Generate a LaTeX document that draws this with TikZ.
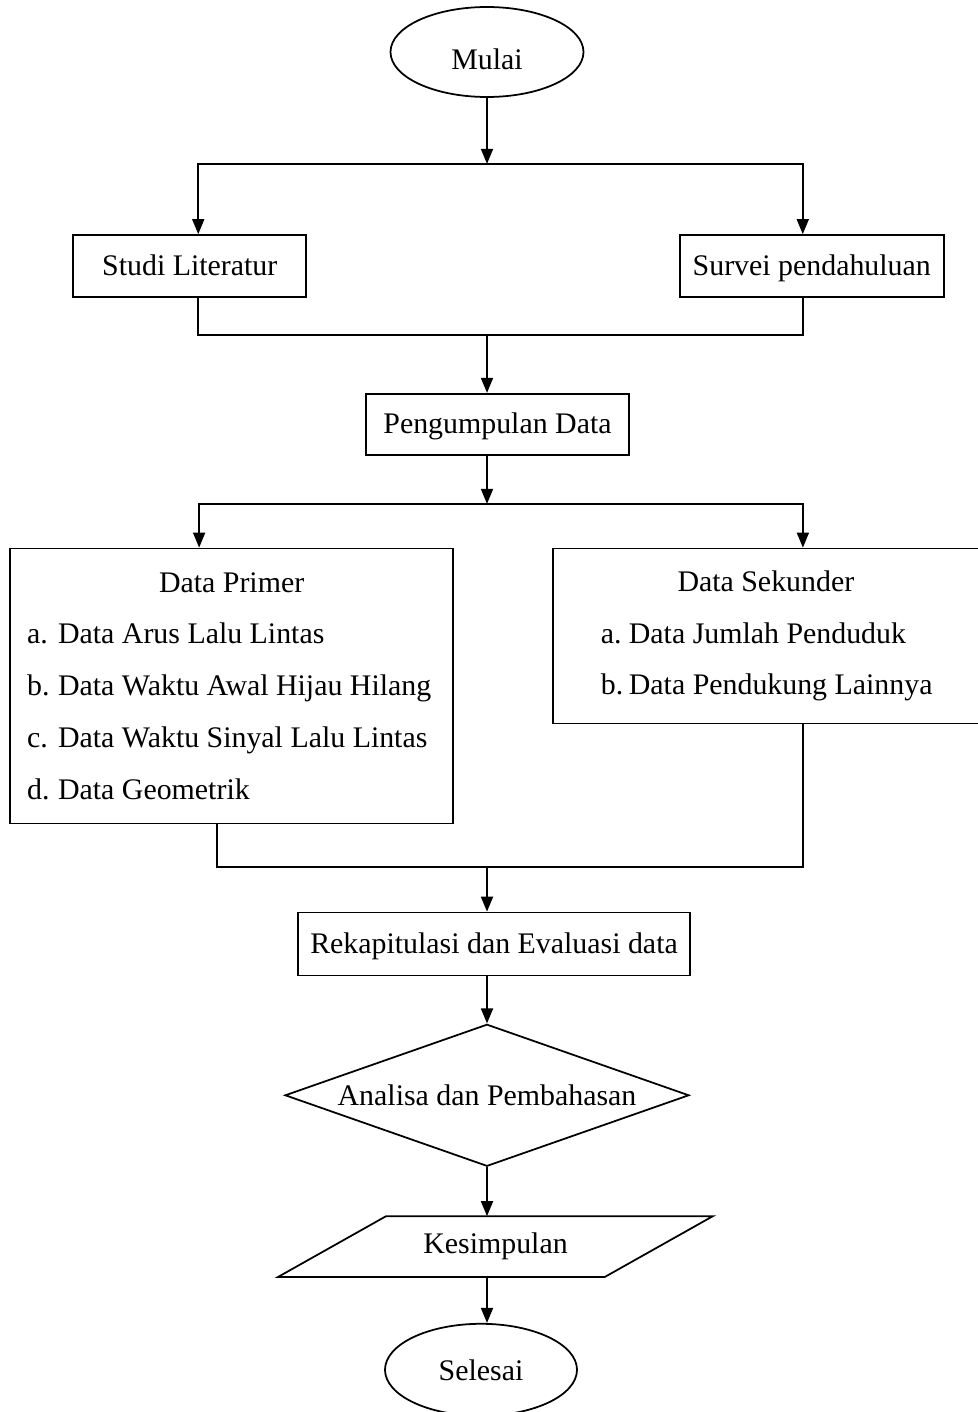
\documentclass[tikz,border=0pt]{standalone}
\usepackage{fontspec}
\setmainfont{Liberation Serif}
\usetikzlibrary{arrows.meta, positioning, shapes.geometric}

\begin{document}
\begin{tikzpicture}[
font=\fontsize{17}{29.5}\selectfont,
line width=1pt,
box/.style={
draw,
inner sep=0pt,
text height=13pt,
text depth=2pt,
minimum height=1.24cm
},
terminal/.style={
draw,
ellipse,
inner sep=0pt,
minimum width=3.86cm,
minimum height=1.8cm
},
listbox/.style={
draw,
align=flush left,
inner xsep=0.13cm
},
>={Triangle[length=0.3cm, width=0.24cm]}
]

\useasboundingbox (0,0) rectangle (19.54,-28.24);

\node[terminal, text height=19.6pt, text depth=0pt] (mulai)
at (9.74,-1.04) {Mulai};

\node[box, minimum width=5.26cm, minimum height=1.22cm,
below=5.9cm of mulai, xshift=0.21cm] (kumpul)
{Pengumpulan Data};

\node[box, minimum width=4.66cm,
above left=1.9cm and 1.16cm of kumpul.north west] (studi)
{Studi Literatur};

\node[box, minimum width=5.28cm,
above right=1.9cm and 0.98cm of kumpul.north east] (survei)
{Survei pendahuluan};

\node[listbox, text width=8.6cm, minimum height=5.5cm,
below left=1.84cm and 0.87cm of kumpul.south] (primer)
{\makebox[\linewidth]{Data Primer}\\
\hspace*{0.21cm}\makebox[0.62cm][l]{a.}Data Arus Lalu Lintas\\
\hspace*{0.21cm}\makebox[0.62cm][l]{b.}Data Waktu Awal Hijau Hilang\\
\hspace*{0.21cm}\makebox[0.62cm][l]{c.}Data Waktu Sinyal Lalu Lintas\\
\hspace*{0.21cm}\makebox[0.62cm][l]{d.}Data Geometrik};

\node[listbox, text width=8.26cm, minimum height=3.5cm,
below right=1.84cm and 1.09cm of kumpul.south] (sekunder)
{\makebox[\linewidth]{Data Sekunder}\\
\hspace*{0.83cm}\makebox[0.56cm][l]{a.}Data Jumlah Penduduk\\
\hspace*{0.83cm}\makebox[0.56cm][l]{b.}Data Pendukung Lainnya};

\node[box, minimum width=7.84cm, minimum height=1.26cm,
below=9.12cm of kumpul, xshift=-0.07cm] (rekap)
{Rekapitulasi dan Evaluasi data};

\node[draw, diamond, aspect=2.85, inner sep=0pt,
minimum width=8.08cm, minimum height=2.84cm,
below=0.94cm of rekap, xshift=-0.14cm] (analisa)
{Analisa dan Pembahasan};

% jajaran genjang digambar sendiri
\node[inner sep=0pt, minimum width=8.66cm, minimum height=1.18cm,
below=0.98cm of analisa, xshift=0.17cm] (kesimpulan)
{Kesimpulan};
\draw ([xshift=2.16cm]kesimpulan.north west) -- (kesimpulan.north east)
-- ([xshift=-2.16cm]kesimpulan.south east) -- (kesimpulan.south west)
-- cycle;

\node[terminal, minimum width=3.84cm, minimum height=1.84cm,
below=0.92cm of kesimpulan, xshift=-0.29cm] (selesai)
{Selesai};

% titik cabang dan titik gabung
\coordinate[below=1.32cm of mulai] (split1);
\coordinate[below=4.74cm of mulai] (join1);
\coordinate[below=8.12cm of mulai] (split2);
\coordinate[below=15.38cm of mulai] (join2);

\draw[->] (mulai) -- (split1);
\draw[->] (split1) -| ([xshift=0.17cm]studi.north);
\draw[->] (split1) -| ([xshift=-0.18cm]survei.north);

\draw ([xshift=0.17cm]studi.south) |- (join1)
-| ([xshift=-0.18cm]survei.south);
\draw[->] (join1) -- (join1 |- kumpul.north);

\draw[->] (join1 |- kumpul.south) -- (split2);
\draw[->] (split2) -| ([xshift=-0.65cm]primer.north);
\draw[->] (split2) -| ([xshift=0.74cm]sekunder.north);

\draw ([xshift=-0.3cm]primer.south) |- (join2)
-| ([xshift=0.74cm]sekunder.south);
\draw[->] (join2) -- (join2 |- rekap.north);

\draw[->] (join2 |- rekap.south) -- (analisa);
\draw[->] (analisa) -- (analisa.south |- kesimpulan.north);
\draw[->] (analisa.south |- kesimpulan.south)
-- (analisa.south |- selesai.north);

\end{tikzpicture}
\end{document}
